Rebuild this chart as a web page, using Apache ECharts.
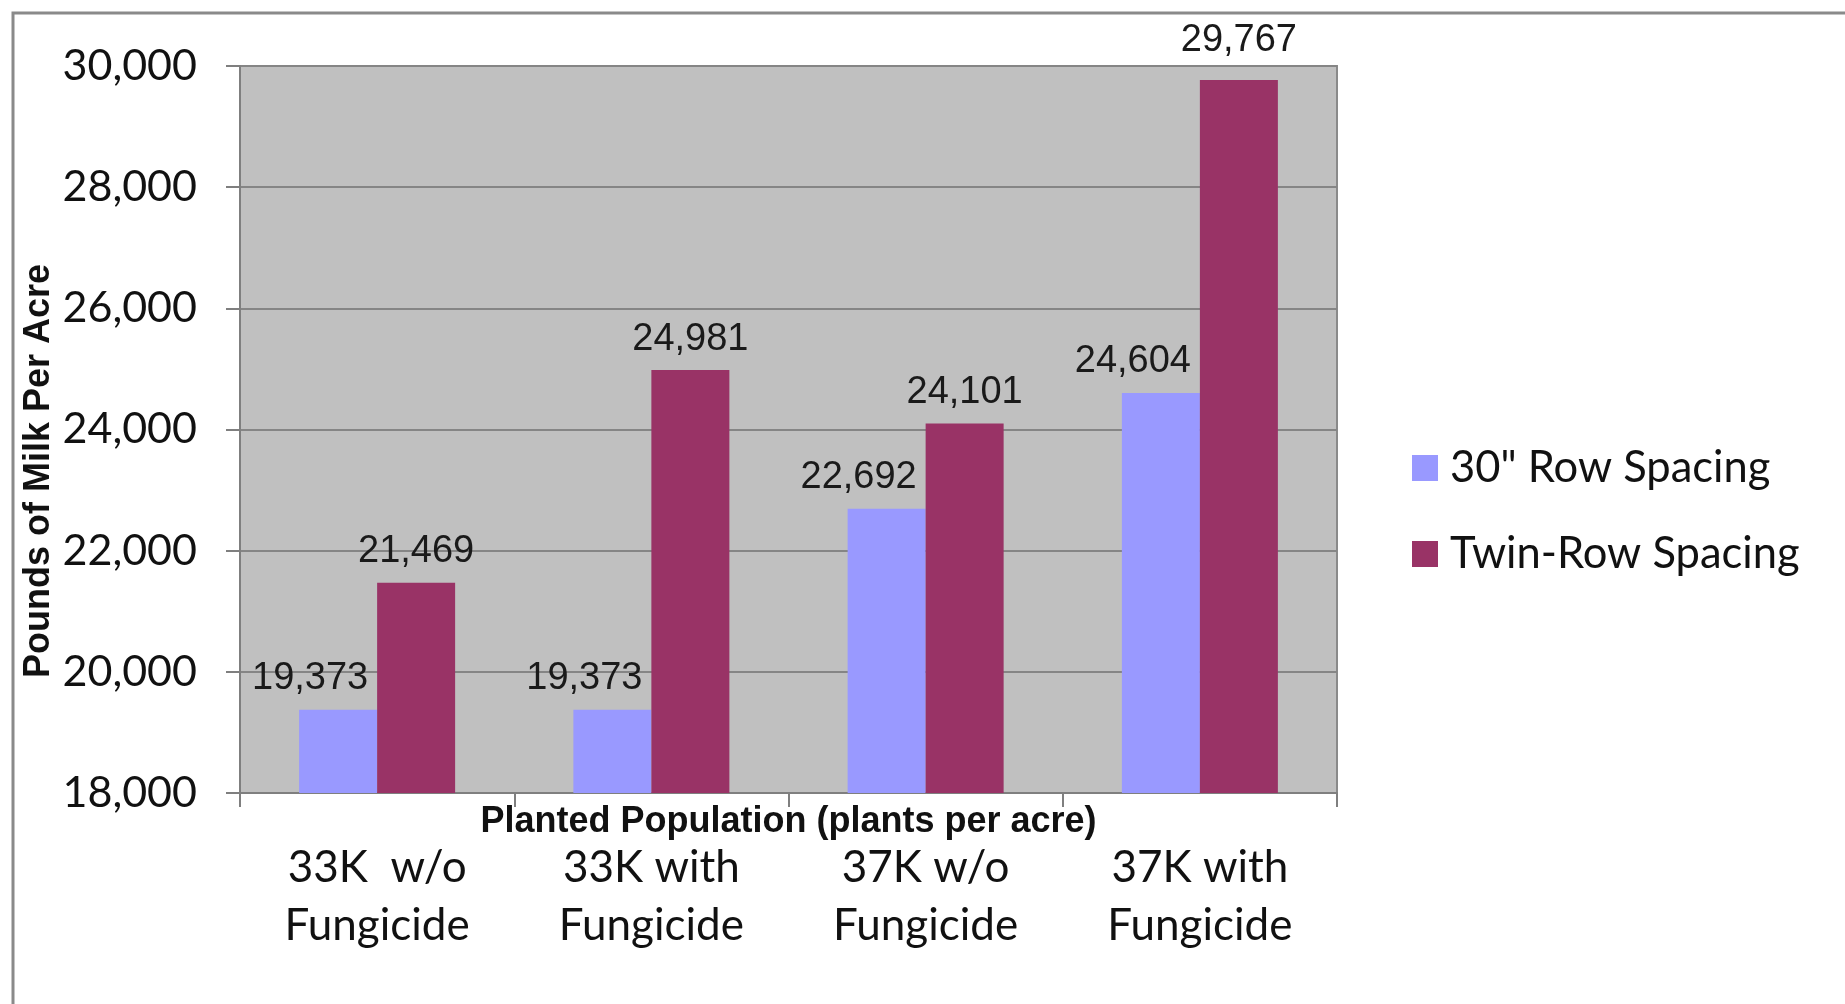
<!DOCTYPE html>
<html>
<head>
<meta charset="utf-8">
<script src="https://cdn.jsdelivr.net/npm/echarts@6/dist/echarts.min.js"></script>
<style>
  html, body { margin: 0; padding: 0; background: #ffffff; }
  #chart { width: 1845px; height: 1004px; }
</style>
</head>
<body>
<div id="chart"></div>
<script>
// Milk yield per acre by planted population and fungicide treatment
const categories = ['33K  w/o\nFungicide', '33K with\nFungicide', '37K w/o\nFungicide', '37K with\nFungicide'];
const seriesNames = ['30" Row Spacing', 'Twin-Row Spacing'];
const rowSpacing30 = [19373, 19373, 22692, 24604];
const twinRowSpacing = [21469, 24981, 24101, 29767];
const yTicks = { min: 18000, max: 30000, interval: 2000 };

const labelFont = 'Liberation Sans, Arial, sans-serif';
const textFont = 'Lato, Noto Sans, sans-serif';

const chart = echarts.init(document.getElementById('chart'), null, { renderer: 'canvas' });

// the tallest twin-row label sits a little higher than the rest
const twinData = twinRowSpacing.map((v, i) => i === twinRowSpacing.length - 1
  ? { value: v, label: { offset: [0, -9] } }
  : v);

chart.setOption({
  animation: false,
  backgroundColor: '#ffffff',
  graphic: [
    {
      type: 'rect',
      shape: { x: 13, y: 13, width: 1900, height: 1100 },
      style: { fill: 'none', stroke: '#8a8a8a', lineWidth: 3 },
      silent: true
    },
    {
      type: 'text',
      rotation: Math.PI / 2,
      x: 39, y: 471,
      style: {
        text: 'Pounds of Milk Per Acre',
        font: 'bold 36px ' + labelFont,
        fill: '#111111',
        textAlign: 'center',
        textVerticalAlign: 'middle'
      }
    }
  ],
  grid: {
    left: 240, right: 508, top: 66, bottom: 211,
    show: true,
    backgroundColor: '#c0c0c0',
    borderColor: '#8a8a8a',
    borderWidth: 2
  },
  legend: {
    orient: 'vertical',
    left: 1407,
    top: 441,
    icon: 'rect',
    itemWidth: 26,
    itemHeight: 26,
    itemGap: 42,
    textStyle: { fontFamily: textFont, fontSize: 43.5, color: '#111111', padding: [0, 0, 0, 7] },
    data: seriesNames
  },
  xAxis: {
    type: 'category',
    data: categories,
    name: 'Planted Population (plants per acre)',
    nameLocation: 'middle',
    nameGap: 11,
    nameMoveOverlap: false,
    nameTextStyle: { fontFamily: labelFont, fontWeight: 'bold', fontSize: 36, color: '#111111', verticalAlign: 'top' },
    axisLine: { show: true, lineStyle: { color: '#7f7f7f', width: 2 } },
    axisTick: { show: true, alignWithLabel: false, length: 14, lineStyle: { color: '#7f7f7f', width: 2 } },
    axisLabel: { margin: 46, fontFamily: textFont, fontSize: 44, color: '#111111', lineHeight: 58, interval: 0 },
    splitLine: { show: false }
  },
  yAxis: {
    type: 'value',
    min: yTicks.min,
    max: yTicks.max,
    interval: yTicks.interval,
    axisLine: { show: true, lineStyle: { color: '#7f7f7f', width: 2 } },
    axisTick: { show: true, length: 14, lineStyle: { color: '#7f7f7f', width: 2 } },
    axisLabel: {
      margin: 43,
      fontFamily: textFont,
      fontSize: 43,
      color: '#111111',
      formatter: v => v.toLocaleString('en-US')
    },
    splitLine: { show: true, lineStyle: { color: '#858585', width: 2 } }
  },
  series: [
    {
      name: seriesNames[0],
      type: 'bar',
      data: rowSpacing30,
      barWidth: 78,
      barGap: '0%',
      itemStyle: { color: '#9999ff' },
      label: {
        show: true,
        position: 'top',
        distance: 12,
        offset: [-28, 0],
        fontFamily: labelFont,
        fontSize: 38,
        color: '#1a1a1a',
        formatter: p => p.value.toLocaleString('en-US')
      }
    },
    {
      name: seriesNames[1],
      type: 'bar',
      data: twinData,
      barWidth: 78,
      barGap: '0%',
      itemStyle: { color: '#993366' },
      label: {
        show: true,
        position: 'top',
        distance: 12,
        fontFamily: labelFont,
        fontSize: 38,
        color: '#1a1a1a',
        formatter: p => p.value.toLocaleString('en-US')
      }
    }
  ]
});
</script>
</body>
</html>
